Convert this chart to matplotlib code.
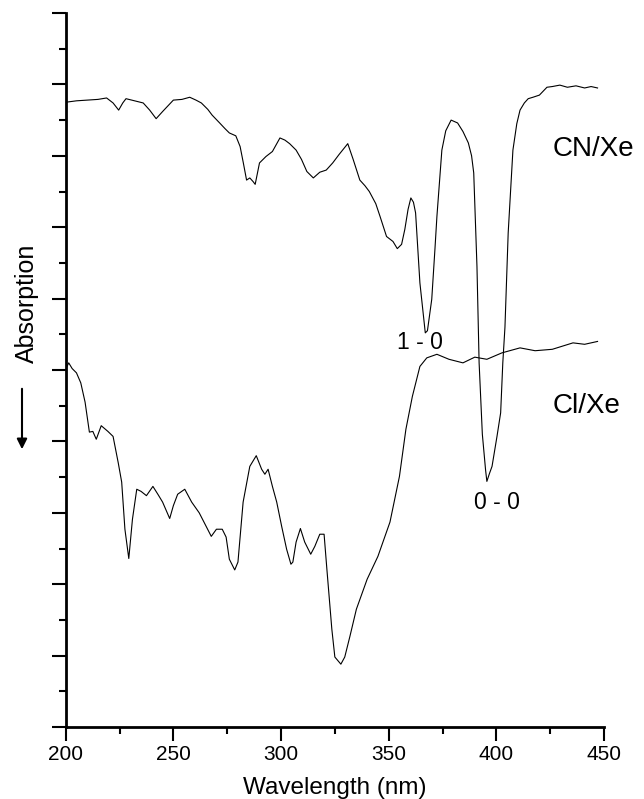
import matplotlib
matplotlib.use("Agg")
import matplotlib.pyplot as plt
from matplotlib.ticker import MultipleLocator

plt.rcParams['font.family'] = ['Liberation Sans', 'DejaVu Sans']

# CN/Xe spectrum (wavelength nm, signal in axis units)
cn_wl = [200, 205, 210, 215, 219, 222, 224.6, 226.5, 228, 232, 236, 239, 242, 245, 250,
         254, 257.6, 260.5, 263, 266, 268, 271.5, 274, 276, 279, 281, 282.5, 284, 285.5,
         287, 288, 289, 290, 293, 296, 299.5, 301.8, 304, 307, 309.5, 312, 315, 318,
         321, 324, 327, 331, 333.5, 336.6, 339, 341, 344, 346, 349, 352, 354, 356,
         357.5, 359, 360.3, 361.5, 362.5, 364.5, 366, 367, 368, 370, 371.5, 372.4,
         374.7, 376.5, 379, 382, 384.5, 387, 388.5, 389.5, 391, 392, 393.5, 395,
         395.6, 396.8, 398, 400.3, 402, 403, 404, 405.5, 407.7, 409.5, 411, 413,
         414.8, 417, 420, 423.5, 426, 429.5, 433, 437, 441, 444, 447]
cn_val = [8.75, 8.77, 8.78, 8.79, 8.81, 8.74, 8.64, 8.74, 8.80, 8.77, 8.74, 8.64, 8.52,
          8.62, 8.78, 8.79, 8.82, 8.78, 8.74, 8.65, 8.57, 8.46, 8.38, 8.32, 8.28, 8.13,
          7.90, 7.66, 7.69, 7.64, 7.60, 7.75, 7.90, 7.99, 8.06, 8.25, 8.22, 8.17, 8.08,
          7.95, 7.78, 7.69, 7.77, 7.80, 7.90, 8.02, 8.17, 7.95, 7.66, 7.58, 7.50, 7.33,
          7.15, 6.87, 6.80, 6.70, 6.76, 6.97, 7.25, 7.41, 7.35, 7.20, 6.22, 5.80, 5.52,
          5.55, 5.99, 6.70, 7.15, 8.08, 8.35, 8.50, 8.46, 8.34, 8.18, 8.00, 7.76, 6.45,
          5.10, 4.10, 3.60, 3.44, 3.55, 3.65, 4.07, 4.40, 5.10, 5.60, 6.92, 8.08, 8.45,
          8.64, 8.74, 8.80, 8.82, 8.85, 8.96, 8.97, 8.99, 8.96, 8.98, 8.95, 8.97, 8.95]

# Cl/Xe spectrum
cl_wl = [200, 201.4, 203, 205, 207, 209, 211, 212.6, 214.2, 216.5, 219.6, 222, 224.4,
         226, 227.5, 229.3, 231, 233, 235, 237.5, 240.5, 243, 245, 248.3, 250, 252,
         255.3, 258.5, 262, 265.4, 267.6, 270, 272.7, 274.5, 276, 278.5, 280, 282.4,
         285.5, 288.5, 291, 292.5, 294, 296, 298, 300.3, 302.6, 304.6, 305.5, 307,
         309, 311, 313.8, 315.7, 318, 320, 321.3, 323.6, 325, 327.8, 329.6, 332, 335,
         340, 345, 350.6, 355, 358, 361, 364.5, 367.7, 372.4, 378, 384.5, 390, 395.6,
         402.6, 411, 418, 426, 435.6, 441, 447]
cl_val = [5.01, 5.10, 5.02, 4.96, 4.82, 4.55, 4.13, 4.14, 4.03, 4.22, 4.14, 4.07, 3.70,
          3.43, 2.77, 2.36, 2.91, 3.33, 3.30, 3.24, 3.37, 3.25, 3.15, 2.92, 3.10, 3.26,
          3.33, 3.15, 3.00, 2.80, 2.67, 2.77, 2.77, 2.66, 2.35, 2.20, 2.31, 3.15, 3.65,
          3.80, 3.61, 3.54, 3.61, 3.37, 3.15, 2.81, 2.49, 2.28, 2.31, 2.59, 2.78, 2.59,
          2.42, 2.53, 2.70, 2.70, 2.21, 1.37, 0.98, 0.88, 0.98, 1.27, 1.65, 2.07, 2.39,
          2.87, 3.51, 4.17, 4.63, 5.05, 5.17, 5.22, 5.15, 5.10, 5.18, 5.15, 5.24, 5.31,
          5.27, 5.29, 5.38, 5.36, 5.40]

x_ticks = [200, 250, 300, 350, 400, 450]

fig = plt.figure(figsize=(6.44, 7.99), dpi=100)
ax = fig.add_axes([65.7 / 644, 72 / 799, (604 - 65.7) / 644, (727 - 13) / 799])

ax.plot(cl_wl, cl_val, color='black', lw=0.8)
ax.plot(cn_wl, cn_val, color='black', lw=0.8)

ax.set_xlim(200, 450)
ax.set_ylim(0, 10)
ax.set_xticks(x_ticks)
ax.xaxis.set_minor_locator(MultipleLocator(25))
ax.yaxis.set_major_locator(MultipleLocator(1))
ax.yaxis.set_minor_locator(MultipleLocator(0.5))
ax.set_yticklabels([])
ax.tick_params(which='major', direction='out', length=10, width=1.5, labelsize=15)
ax.tick_params(which='minor', direction='out', length=5, width=1.5)
ax.tick_params(axis='x', pad=3)
for s in ['top', 'right']:
    ax.spines[s].set_visible(False)
for s in ['left', 'bottom']:
    ax.spines[s].set_linewidth(2)

ax.set_xlabel('Wavelength (nm)', fontsize=17.5, labelpad=9)

ax.text(426, 8.1, 'CN/Xe', fontsize=20, ha='left', va='center')
ax.text(426, 4.5, 'Cl/Xe', fontsize=20, ha='left', va='center')
ax.text(364.5, 5.38, '1 - 0', fontsize=16.5, ha='center', va='center')
ax.text(400.3, 3.15, '0 - 0', fontsize=16.5, ha='center', va='center')

fig.text(27 / 644, 1 - 303 / 799, 'Absorption', rotation=90, fontsize=18,
         ha='center', va='center')
fig.patches.append(matplotlib.patches.FancyArrowPatch(
    (22 / 644, 1 - 386 / 799), (22 / 644, 1 - 452 / 799),
    transform=fig.transFigure, arrowstyle='-|>,head_length=6,head_width=3',
    color='black', lw=1.5))

fig.savefig('out.png', dpi=100)
